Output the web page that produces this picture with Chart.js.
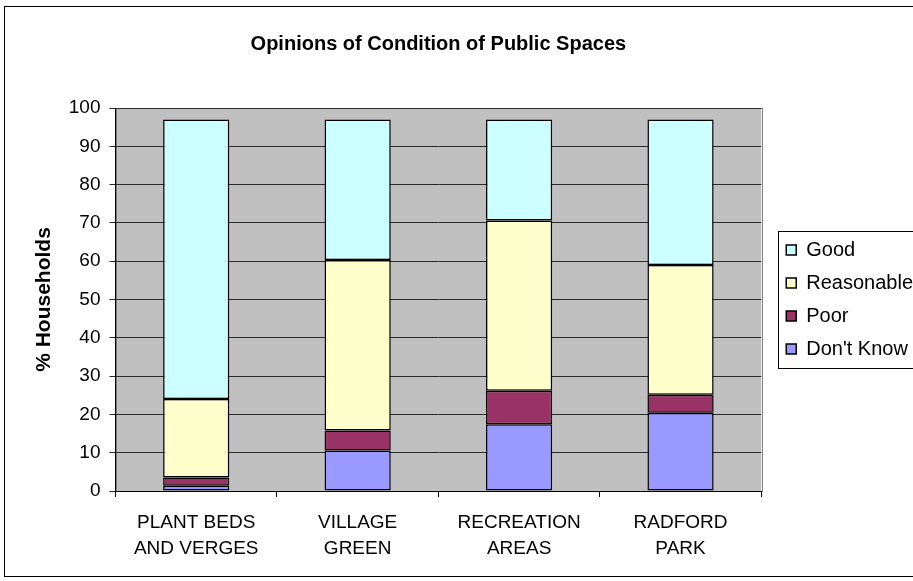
<!DOCTYPE html>
<html>
<head>
<meta charset="utf-8">
<script src="https://cdn.jsdelivr.net/npm/chart.js@4/dist/chart.umd.min.js"></script>
<style>
    html, body { margin: 0; padding: 0; background: #fff; overflow: hidden; }
    #wrap { position: relative; width: 923px; height: 581px; }
</style>
</head>
<body>
<div id="wrap"><canvas id="spacesChart"></canvas></div>
<script>
// Inquérito às famílias: estado dos espaços públicos (% de agregados)
const categories = [
    ['PLANT BEDS', 'AND VERGES'],
    ['VILLAGE', 'GREEN'],
    ['RECREATION', 'AREAS'],
    ['RADFORD', 'PARK']
];
const dontKnow = [1.4, 10.6, 17.4, 20.4];
const poor = [2.1, 5.2, 8.8, 4.7];
const reasonable = [20.5, 44.5, 44.4, 33.9];
const good = [73.0, 36.7, 26.4, 38.0];

const FONT = "'Liberation Sans', Arial, sans-serif";

// Fundo cinzento da área do gráfico e moldura exterior
const framePlugin = {
    id: 'frame',
    beforeDraw(chart) {
        const { ctx, chartArea: a } = chart;
        ctx.save();
        ctx.fillStyle = '#c0c0c0';
        ctx.fillRect(a.left, a.top, a.right - a.left, a.bottom - a.top);
        ctx.strokeStyle = '#808080';
        ctx.lineWidth = 1;
        ctx.strokeRect(Math.round(a.left) + 0.5, Math.round(a.top) + 0.5,
            Math.round(a.right - a.left), Math.round(a.bottom - a.top));
        ctx.strokeStyle = '#000';
        ctx.strokeRect(4.5, 6.5, chart.width + 20, 570);
        ctx.restore();
    },
    afterDraw(chart) {
        // caixa à volta da legenda
        const lg = chart.legend;
        if (!lg || !lg.legendHitBoxes.length) return;
        const boxes = lg.legendHitBoxes;
        const first = boxes[0];
        const last = boxes[boxes.length - 1];
        const ctx = chart.ctx;
        ctx.save();
        ctx.strokeStyle = '#000';
        ctx.lineWidth = 1;
        const x = Math.round(lg.left + 5) + 0.5;
        const y = Math.round(first.top - 9) + 0.5;
        const h = Math.round(last.top + last.height + 9 - y);
        ctx.strokeRect(x, y, chart.width, h);
        ctx.restore();
    }
};

function barSet(label, data, color) {
    return {
        label: label,
        data: data,
        backgroundColor: color,
        borderColor: '#000',
        borderWidth: 1.5,
        borderSkipped: false,
        categoryPercentage: 1,
        barPercentage: 0.41
    };
}

const ctx = document.getElementById('spacesChart');
new Chart(ctx, {
    type: 'bar',
    data: {
        labels: categories,
        datasets: [
            barSet("Don't Know", dontKnow, '#9999ff'),
            barSet('Poor', poor, '#993366'),
            barSet('Reasonable', reasonable, '#ffffcc'),
            barSet('Good', good, '#ccffff')
        ]
    },
    options: {
        responsive: true,
        maintainAspectRatio: false,
        animation: false,
        layout: { padding: { left: 20, top: 0, right: 0, bottom: 0 } },
        scales: {
            x: {
                stacked: true,
                afterFit: function(scale) { scale.height = 90; },
                grid: {
                    offset: true,
                    drawOnChartArea: false,
                    drawTicks: true,
                    tickLength: 6,
                    color: '#000'
                },
                border: { color: '#000', width: 1 },
                ticks: {
                    color: '#000',
                    padding: 12,
                    maxRotation: 0,
                    autoSkip: false,
                    font: { family: FONT, size: 19, lineHeight: 1.4 }
                }
            },
            y: {
                stacked: true,
                min: 0,
                max: 100,
                afterFit: function(scale) { scale.width = 95.5; },
                grid: {
                    color: '#2a2a2a',
                    drawTicks: true,
                    tickLength: 6
                },
                border: { color: '#000', width: 1 },
                ticks: {
                    stepSize: 10,
                    color: '#000',
                    padding: 9,
                    font: { family: FONT, size: 19 }
                },
                title: {
                    display: true,
                    text: '% Households',
                    color: '#000',
                    padding: { top: 12, bottom: 0 },
                    font: { family: FONT, size: 21, weight: 'bold' }
                }
            },
            // eixo vazio só para afastar a legenda da área do gráfico
            gap: {
                type: 'linear',
                position: 'right',
                display: true,
                afterFit: function(scale) { scale.width = 12; },
                grid: { display: false },
                border: { display: false },
                ticks: { display: false }
            }
        },
        plugins: {
            title: {
                display: true,
                text: 'Opinions of Condition of Public Spaces',
                color: '#000',
                fullSize: false,
                padding: { top: 32, bottom: 52 },
                font: { family: FONT, size: 20, weight: 'bold' }
            },
            legend: {
                position: 'right',
                fullSize: false,
                reverse: true,
                labels: {
                    color: '#000',
                    boxWidth: 10,
                    boxHeight: 10,
                    padding: 13,
                    font: { family: FONT, size: 20 }
                }
            },
            tooltip: { enabled: false }
        }
    },
    plugins: [framePlugin]
});
</script>
</body>
</html>
